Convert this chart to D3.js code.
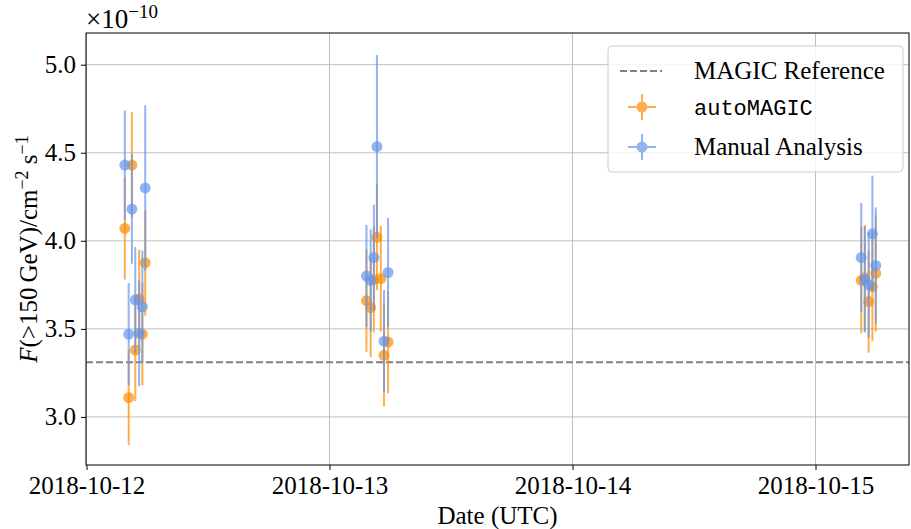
<!DOCTYPE html>
<html>
<head>
<meta charset="utf-8">
<script src="https://cdn.jsdelivr.net/npm/d3@7"></script>
<style>
body { margin: 0; background: #fff; }
text { font-family: "Liberation Serif", serif; fill: #000; }
</style>
</head>
<body>
<div id="container"></div>
<script>

// autoMAGIC (orange) points
var autoTimes = ["2018-10-12T03:47","2018-10-12T04:10","2018-10-12T04:29","2018-10-12T04:49","2018-10-12T05:12","2018-10-12T05:31","2018-10-12T05:48",
  "2018-10-13T03:39","2018-10-13T04:04","2018-10-13T04:23","2018-10-13T04:41","2018-10-13T05:04","2018-10-13T05:23","2018-10-13T05:47",
  "2018-10-15T04:31","2018-10-15T04:52","2018-10-15T05:15","2018-10-15T05:37","2018-10-15T05:57"];
var autoFlux = [4.07,3.11,4.43,3.38,3.67,3.47,3.875,
  3.66,3.62,3.78,4.02,3.785,3.35,3.425,
  3.775,3.79,3.655,3.74,3.815];
var autoErr = [0.29,0.27,0.30,0.29,0.28,0.29,0.30,
  0.29,0.28,0.30,0.30,0.30,0.29,0.29,
  0.30,0.30,0.29,0.31,0.33];

// manual analysis (blue) points
var manualTimes = ["2018-10-12T03:47","2018-10-12T04:10","2018-10-12T04:29","2018-10-12T04:49","2018-10-12T05:12","2018-10-12T05:31","2018-10-12T05:48",
  "2018-10-13T03:39","2018-10-13T04:04","2018-10-13T04:23","2018-10-13T04:41","2018-10-13T05:23","2018-10-13T05:47",
  "2018-10-15T04:31","2018-10-15T04:52","2018-10-15T05:15","2018-10-15T05:37","2018-10-15T05:57"];
var manualFlux = [4.43,3.47,4.18,3.665,3.475,3.625,4.30,
  3.80,3.775,3.905,4.535,3.43,3.82,
  3.905,3.78,3.75,4.04,3.86];
var manualErr = [0.31,0.29,0.31,0.30,0.30,0.32,0.47,
  0.29,0.29,0.30,0.52,0.29,0.31,
  0.31,0.30,0.30,0.33,0.33];

var magicRef = 3.31;
var yTicks = [3.0,3.5,4.0,4.5,5.0];
var xTicks = ["2018-10-12","2018-10-13","2018-10-14","2018-10-15"];

var w = 911, h = 529;
var m = {top:33, right:2, bottom:64, left:86};

var parse = d3.utcParse("%Y-%m-%dT%H:%M");
var parseDay = d3.utcParse("%Y-%m-%d");

var svg = d3.select("#container").append("svg").attr("width",w).attr("height",h);

var x = d3.scaleUtc()
  .domain([parse("2018-10-11T23:57"), parse("2018-10-15T09:14")])
  .range([m.left, w-m.right]);
var y = d3.scaleLinear()
  .domain([2.727, 5.18])
  .range([h-m.bottom, m.top]);

// grid
svg.append("g").selectAll("line").data(yTicks).enter().append("line")
  .attr("x1",m.left).attr("x2",w-m.right)
  .attr("y1",function(d){ return y(d); }).attr("y2",function(d){ return y(d); })
  .attr("stroke","#b0b0b0").attr("stroke-width",0.8);
svg.append("g").selectAll("line").data(xTicks).enter().append("line")
  .attr("x1",function(d){ return x(parseDay(d)); }).attr("x2",function(d){ return x(parseDay(d)); })
  .attr("y1",m.top).attr("y2",h-m.bottom)
  .attr("stroke","#b0b0b0").attr("stroke-width",0.8);

// reference line
svg.append("line")
  .attr("x1",m.left).attr("x2",w-m.right)
  .attr("y1",y(magicRef)).attr("y2",y(magicRef))
  .attr("stroke","#808080").attr("stroke-width",2)
  .attr("stroke-dasharray","7,3");

function drawSeries(times, flux, err, color) {
  var data = times.map(function(t,i){ return {t:parse(t), f:flux[i], e:err[i]}; });
  var g = svg.append("g");
  g.selectAll(".bar").data(data).enter().append("line")
    .attr("x1",function(d){ return x(d.t); }).attr("x2",function(d){ return x(d.t); })
    .attr("y1",function(d){ return y(d.f-d.e); }).attr("y2",function(d){ return y(d.f+d.e); })
    .attr("stroke",color).attr("stroke-width",2).attr("opacity",0.7);
  g.selectAll(".pt").data(data).enter().append("circle")
    .attr("cx",function(d){ return x(d.t); }).attr("cy",function(d){ return y(d.f); })
    .attr("r",5.5).attr("fill",color).attr("opacity",0.7);
}
drawSeries(autoTimes, autoFlux, autoErr, "darkorange");
drawSeries(manualTimes, manualFlux, manualErr, "cornflowerblue");

// axes
var xAxis = svg.append("g").attr("transform","translate(0,"+(h-m.bottom)+")")
  .call(d3.axisBottom(x).tickValues(xTicks.map(function(d){ return parseDay(d); }))
    .tickFormat(d3.utcFormat("%Y-%m-%d")).tickSizeOuter(0).tickSize(5).tickPadding(6));
var yAxis = svg.append("g").attr("transform","translate("+m.left+",0)")
  .call(d3.axisLeft(y).tickValues(yTicks).tickFormat(d3.format(".1f")).tickSizeOuter(0).tickSize(5).tickPadding(5));
xAxis.attr("font-family",null).attr("font-size",null);
yAxis.attr("font-family",null).attr("font-size",null);
svg.selectAll(".tick text").style("font-family","Liberation Serif").style("font-size","25px");
xAxis.select(".domain").remove();
yAxis.select(".domain").remove();
svg.selectAll(".tick line").attr("stroke","#000").attr("stroke-width",1);

// frame
svg.append("rect")
  .attr("x",m.left).attr("y",m.top)
  .attr("width",w-m.right-m.left).attr("height",h-m.bottom-m.top)
  .attr("fill","none").attr("stroke","#000").attr("stroke-width",1);

// offset text
var off = svg.append("text").attr("x",m.left).attr("y",28).style("font-size","27px");
off.append("tspan").text("\u00d710");
off.append("tspan").attr("dy",-10).style("font-size","19px").text("\u221210");

// axis labels
svg.append("text").attr("x",(m.left+w-m.right)/2).attr("y",524)
  .attr("text-anchor","middle").style("font-size","25px").text("Date (UTC)");

var yl = svg.append("text")
  .attr("transform","translate(37,"+((m.top+h-m.bottom)/2)+") rotate(-90)")
  .attr("text-anchor","middle").style("font-size","25px");
yl.append("tspan").style("font-style","italic").text("F");
yl.append("tspan").text("(>150\u2009GeV)/cm");
yl.append("tspan").attr("dy",-9).style("font-size","18px").text("\u22122");
yl.append("tspan").attr("dy",9).text(" s");
yl.append("tspan").attr("dy",-9).style("font-size","18px").text("\u22121");

// legend
var lg = svg.append("g").attr("transform","translate(608,46)");
lg.append("rect").attr("width",295).attr("height",126).attr("rx",4)
  .attr("fill","#fff").attr("fill-opacity",0.8)
  .attr("stroke","#cccccc").attr("stroke-width",1);
lg.append("line").attr("x1",12).attr("x2",54).attr("y1",25).attr("y2",25)
  .attr("stroke","#808080").attr("stroke-width",2).attr("stroke-dasharray","7,3");
lg.append("text").attr("x",86).attr("y",33).style("font-size","25px").text("MAGIC Reference");

var legItems = [{c:"darkorange", y:61, label:"autoMAGIC", mono:true},
                {c:"cornflowerblue", y:101, label:"Manual Analysis", mono:false}];
legItems.forEach(function(it){
  var gi = lg.append("g").attr("opacity",0.7);
  gi.append("line").attr("x1",20).attr("x2",48).attr("y1",it.y).attr("y2",it.y)
    .attr("stroke",it.c).attr("stroke-width",2);
  gi.append("line").attr("x1",34).attr("x2",34).attr("y1",it.y-13).attr("y2",it.y+13)
    .attr("stroke",it.c).attr("stroke-width",2);
  gi.append("circle").attr("cx",34).attr("cy",it.y).attr("r",5.5).attr("fill",it.c);
  lg.append("text").attr("x",86).attr("y",it.y+8)
    .style("font-size",it.mono ? "22px" : "25px")
    .style("font-family",it.mono ? "Liberation Mono" : "Liberation Serif")
    .text(it.label);
});

</script>
</body>
</html>
